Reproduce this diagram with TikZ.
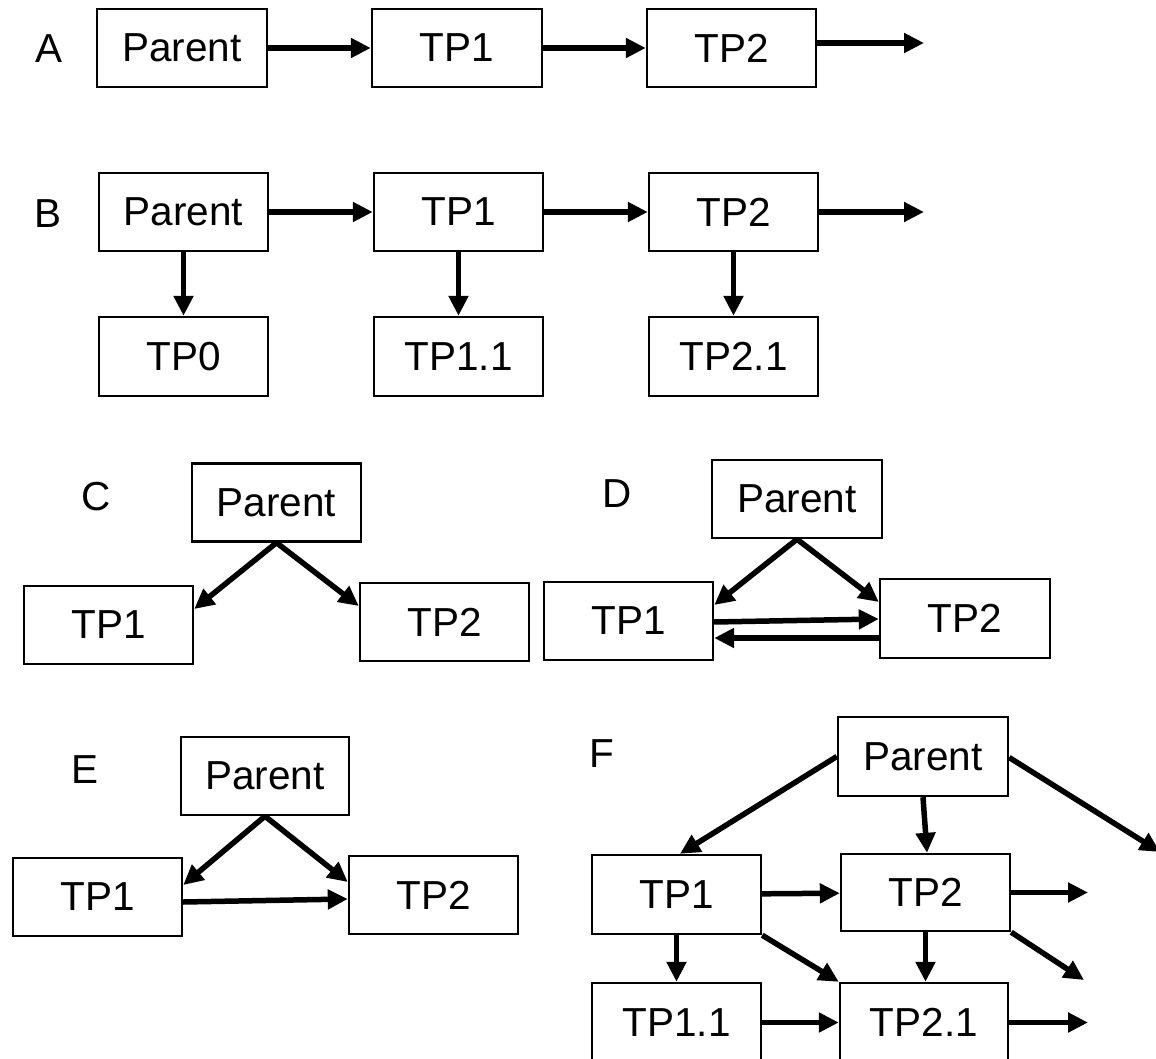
\documentclass[tikz,border=0pt]{standalone}
\usepackage{fontspec}
\setmainfont{Liberation Sans}
\usetikzlibrary{arrows.meta,calc}
\begin{document}
\begin{tikzpicture}[x=1pt,y=-1pt,
  bx/.style={draw=black,line width=2.4pt,minimum width=169pt,minimum height=78pt,inner sep=0pt,font=\fontsize{40.5}{48}\selectfont},
  lbl/.style={inner sep=0pt,font=\fontsize{40.5}{48}\selectfont},
  ar/.style={-{Triangle[length=20pt,width=19pt]},line width=5.5pt}]
\useasboundingbox (0,0) rectangle (1156,1059);
% A
\node[lbl] (la) at (49,49) {A};
\node[bx,minimum width=170pt] (aP) at (182,48) {Parent};
\node[bx,minimum width=170pt] (aT1) at (457,48) {TP1};
\node[bx] (aT2) at (731.5,48) {TP2};
\coordinate (aE) at (924,43);
\draw[ar] (aP) -- (aT1);
\draw[ar] (aT1) -- (aT2);
\draw[ar] ($(aT2.east)+(0,-5)$) -- (aE);
% B
\node[lbl] (lb) at (48.5,214) {B};
\node[bx] (bP) at (183.5,212) {Parent};
\node[bx] (bT1) at (458.5,212) {TP1};
\node[bx] (bT2) at (733.5,212) {TP2};
\node[bx,minimum height=79pt] (bT0) at (183.5,356.5) {TP0};
\node[bx,minimum height=79pt] (bT11) at (458.5,356.5) {TP1.1};
\node[bx,minimum height=79pt] (bT21) at (733.5,356.5) {TP2.1};
\coordinate (bE) at (924,212);
\draw[ar] (bP) -- (bT1);
\draw[ar] (bT1) -- (bT2);
\draw[ar] (bT2) -- (bE);
\draw[ar] (bP) -- (bT0);
\draw[ar] (bT1) -- (bT11);
\draw[ar] (bT2) -- (bT21);
% C
\node[lbl] (lc) at (96,497) {C};
\node[bx] (cP) at (276.5,502.5) {Parent};
\node[bx] (cT1) at (108.5,625) {TP1};
\node[bx] (cT2) at (444.5,622) {TP2};
\draw[ar] (cP.south) -- ($(cT1.east)+(0,-16)$);
\draw[ar] (cP.south) -- ($(cT2.west)+(0,-16)$);
% D
\node[lbl] (ld) at (617,494) {D};
\node[bx,minimum width=170pt] (dP) at (797,499) {Parent};
\node[bx] (dT1) at (628.5,621) {TP1};
\node[bx,minimum width=170pt,minimum height=79pt] (dT2) at (965,618.5) {TP2};
\draw[ar] (dP.south) -- ($(dT1.east)+(0,-16)$);
\draw[ar] (dP.south) -- ($(dT2.west)+(0,-16.5)$);
\draw[ar] ($(dT1.east)+(0,1)$) -- ($(dT2.west)+(0,0.5)$);
\draw[ar] ($(dT2.west)+(0,19.5)$) -- ($(dT1.east)+(0,17)$);
% E
\node[lbl] (le) at (85,770) {E};
\node[bx,minimum width=168pt] (eP) at (265,776) {Parent};
\node[bx] (eT1) at (97.5,897) {TP1};
\node[bx] (eT2) at (433.5,895) {TP2};
\draw[ar] (eP.south) -- ($(eT1.east)+(0,-12)$);
\draw[ar] (eP.south) -- ($(eT2.west)+(0,-13)$);
\draw[ar] ($(eT1.east)+(0,5)$) -- ($(eT2.west)+(0,4)$);
% F
\node[lbl] (lf) at (602,754) {F};
\node[bx,minimum width=170pt,minimum height=79pt] (fP) at (923,756.5) {Parent};
\node[bx,minimum height=79pt] (fT1) at (676.5,894.5) {TP1};
\node[bx,minimum height=77pt] (fT2) at (925.5,892.5) {TP2};
\node[bx,minimum height=79pt] (fT11) at (676.5,1022.5) {TP1.1};
\node[bx,minimum width=168pt,minimum height=79pt] (fT21) at (924,1022.5) {TP2.1};
\coordinate (fE1) at (1160,852);
\coordinate (fE2) at (1088,892.5);
\coordinate (fE3) at (1084,980);
\coordinate (fE4) at (1088,1022.5);
\draw[ar] (fP.west) -- ($(fT1.north)+(3.5,0)$);
\draw[ar] (fP.south) -- ($(fT2.north)+(1.5,0)$);
\draw[ar] ($(fP.east)+(0,1)$) -- (fE1);
\draw[ar] (fT1) -- (fT2);
\draw[ar] (fT2.east) -- (fE2);
\draw[ar] (fT1) -- (fT11);
\draw[ar] (fT1.south east) -- (fT21.north west);
\draw[ar] (fT2.south) -- ($(fT21.north)+(1.5,0)$);
\draw[ar] (fT2.south east) -- (fE3);
\draw[ar] (fT11) -- (fT21);
\draw[ar] (fT21.east) -- (fE4);
\end{tikzpicture}
\end{document}
